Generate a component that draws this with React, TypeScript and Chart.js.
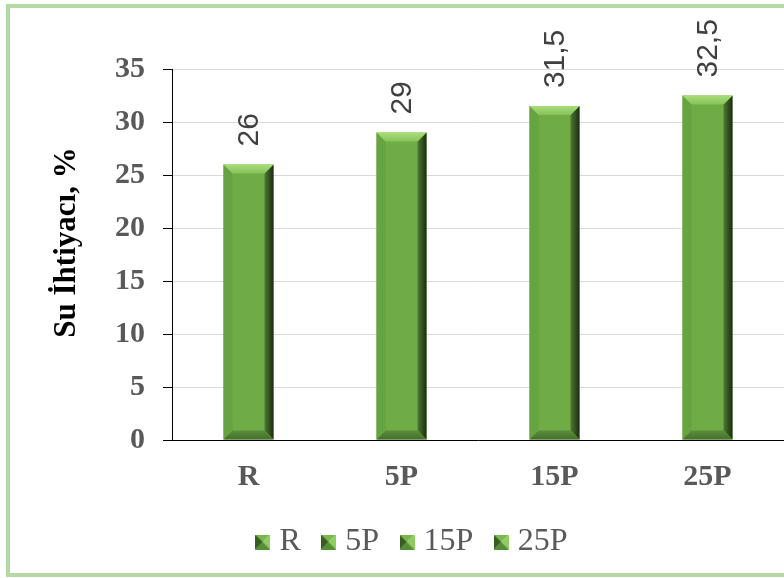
import React, { useEffect, useRef } from "react";
import { Chart, registerables } from "chart.js";

Chart.register(...registerables);

const categories = ["R", "5P", "15P", "25P"];
const values = [26, 29, 31.5, 32.5];
const yMin = 0;
const yMax = 35;
const yStep = 5;
const yTitle = "Su İhtiyacı, %";

const SERIF = "'Liberation Serif', 'Times New Roman', serif";
const SANS = "'Liberation Sans', Arial, sans-serif";
const FACE = "#6fac46";

function makeLegendImage(): HTMLCanvasElement {
  const c = document.createElement("canvas");
  const s = 15;
  c.width = s;
  c.height = s;
  const g = c.getContext("2d")!;
  const m = s / 2;
  const tri = (pts: number[][], col: string) => {
    g.beginPath();
    g.moveTo(pts[0][0], pts[0][1]);
    for (let i = 1; i < pts.length; i++) g.lineTo(pts[i][0], pts[i][1]);
    g.closePath();
    g.fillStyle = col;
    g.fill();
  };
  tri([[0, 0], [s, 0], [m, m]], "#7ab84f");
  tri([[s, 0], [s, s], [m, m]], "#8fcd60");
  tri([[0, s], [s, s], [m, m]], "#558f35");
  tri([[0, 0], [0, s], [m, m]], "#365f1f");
  return c;
}

const bevelPlugin = {
  id: "bevel",
  afterDatasetsDraw(chart: any) {
    const ctx = chart.ctx;
    const meta = chart.getDatasetMeta(0);
    meta.data.forEach((bar: any) => {
      const { x, y, base, width } = bar.getProps(["x", "y", "base", "width"], true);
      const L = x - width / 2;
      const R = x + width / 2;
      const T = Math.min(y, base);
      const B = Math.max(y, base);
      const b = 9;
      const poly = (pts: number[][], fill: any) => {
        ctx.beginPath();
        ctx.moveTo(pts[0][0], pts[0][1]);
        for (let i = 1; i < pts.length; i++) ctx.lineTo(pts[i][0], pts[i][1]);
        ctx.closePath();
        ctx.fillStyle = fill;
        ctx.fill();
      };
      ctx.save();
      // left
      poly([[L, T], [L + b, T + b], [L + b, B - b], [L, B]], "#66a341");
      // right
      const gr = ctx.createLinearGradient(R - b, 0, R, 0);
      gr.addColorStop(0, "#4d7a33");
      gr.addColorStop(1, "#1b2c10");
      poly([[R, T], [R, B], [R - b, B - b], [R - b, T + b]], gr);
      // top
      const gt = ctx.createLinearGradient(0, T, 0, T + b);
      gt.addColorStop(0, "#a8de78");
      gt.addColorStop(1, "#86c259");
      poly([[L, T], [R, T], [R - b, T + b], [L + b, T + b]], gt);
      // bottom
      const gb = ctx.createLinearGradient(0, B - b, 0, B);
      gb.addColorStop(0, "#5a8f3c");
      gb.addColorStop(1, "#456f2e");
      poly([[L, B], [R, B], [R - b, B - b], [L + b, B - b]], gb);
      ctx.restore();
    });
  },
};

const labelPlugin = {
  id: "valueLabels",
  afterDatasetsDraw(chart: any) {
    const ctx = chart.ctx;
    const meta = chart.getDatasetMeta(0);
    ctx.save();
    ctx.font = `30px ${SANS}`;
    ctx.fillStyle = "#404040";
    ctx.textAlign = "left";
    ctx.textBaseline = "middle";
    meta.data.forEach((bar: any, i: number) => {
      const { x, y } = bar.getProps(["x", "y"], true);
      ctx.save();
      ctx.translate(x + 1.5, y - 18);
      ctx.rotate(-Math.PI / 2);
      ctx.fillText(String(values[i]).replace(".", ","), 0, 0);
      ctx.restore();
    });
    ctx.restore();
  },
};

const titlePlugin = {
  id: "yTitle",
  afterDraw(chart: any) {
    const ctx = chart.ctx;
    ctx.save();
    ctx.font = `bold 31px ${SERIF}`;
    ctx.fillStyle = "#000000";
    ctx.textAlign = "center";
    ctx.textBaseline = "middle";
    ctx.translate(67, 242.5);
    ctx.rotate(-Math.PI / 2);
    ctx.fillText(yTitle, 0, 0);
    ctx.restore();
  },
};

export default function App() {
  const ref = useRef<HTMLCanvasElement | null>(null);

  useEffect(() => {
    if (!ref.current) return;
    const legendImg = makeLegendImage();
    const chart = new Chart(ref.current, {
      type: "bar",
      data: {
        labels: categories,
        datasets: [
          {
            data: values,
            backgroundColor: FACE,
            borderWidth: 0,
            barPercentage: 0.327,
            categoryPercentage: 1,
          },
        ],
      },
      options: {
        animation: false,
        responsive: false,
        maintainAspectRatio: false,
        devicePixelRatio: 1,
        layout: { padding: { top: 69, left: 46, right: 36, bottom: 10 } },
        plugins: {
          tooltip: { enabled: false },
          title: { display: false },
          legend: {
            display: true,
            position: "bottom",
            labels: {
              usePointStyle: true,
              pointStyleWidth: 1,
              padding: 27.5,
              color: "#595959",
              font: { family: SERIF, size: 32 },
              generateLabels: () =>
                categories.map((c, i) => ({
                  text: c,
                  pointStyle: legendImg,
                  fillStyle: FACE,
                  strokeStyle: "transparent",
                  lineWidth: 0,
                  hidden: false,
                  index: i,
                  datasetIndex: 0,
                  fontColor: "#595959",
                })),
            },
          },
        },
        scales: {
          x: {
            grid: { display: false, drawTicks: false },
            border: { display: true, color: "#000000", width: 1 },
            ticks: {
              color: "#595959",
              padding: 19,
              font: { family: SERIF, size: 30, weight: "bold" },
            },
            afterFit: (scale: any) => {
              scale.height = 58.5;
            },
          },
          y: {
            min: yMin,
            max: yMax,
            ticks: {
              stepSize: yStep,
              color: "#595959",
              padding: 18,
              font: { family: SERIF, size: 30, weight: "bold" },
            },
            grid: {
              color: "#d9d9d9",
              lineWidth: 1,
              tickColor: "#000000",
              tickLength: 9,
              drawTicks: true,
            },
            border: { display: true, color: "#000000", width: 1 },
            afterFit: (scale: any) => {
              scale.width = 126;
            },
          },
        },
      },
      plugins: [bevelPlugin, labelPlugin, titlePlugin],
    } as any);
    return () => chart.destroy();
  }, []);

  return (
    <div
      style={{
        position: "fixed",
        left: 0,
        top: 0,
        width: 784,
        height: 578,
        overflow: "hidden",
        background: "#ffffff",
      }}
    >
      <div
        style={{
          position: "absolute",
          left: 6,
          top: 4,
          width: 812,
          height: 573,
          boxSizing: "border-box",
          border: "4px solid #b5d8a5",
        }}
      />
      <canvas
        ref={ref}
        width={820}
        height={578}
        style={{ position: "absolute", left: 0, top: 0, width: 820, height: 578 }}
      />
    </div>
  );
}
